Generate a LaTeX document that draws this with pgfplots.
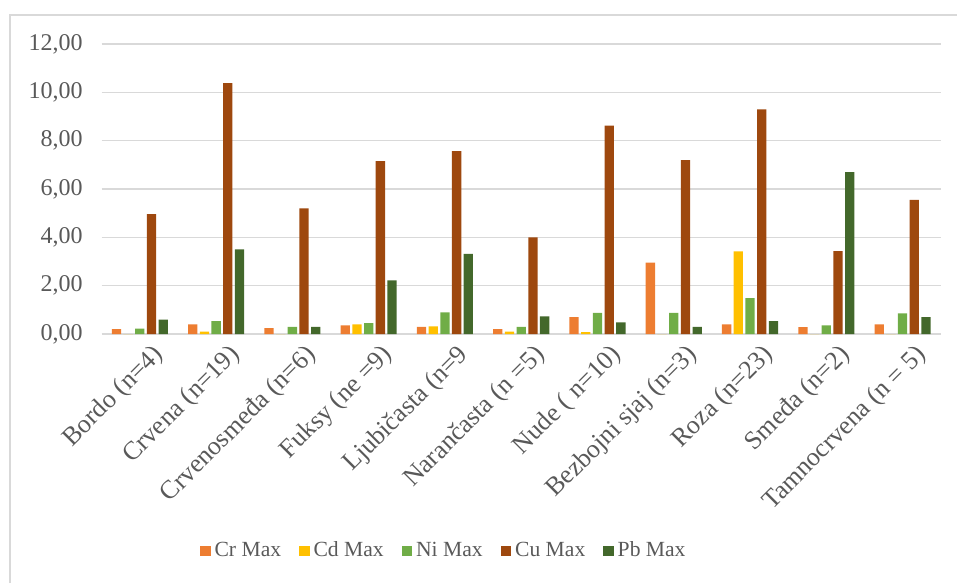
\documentclass[border=0pt]{standalone}
\usepackage{pgfplots}
\pgfplotsset{compat=1.18}
\usepackage{fontspec}
\setmainfont{Liberation Serif}

\definecolor{crc}{HTML}{ED7D31}
\definecolor{cdc}{HTML}{FFC000}
\definecolor{nic}{HTML}{70AD47}
\definecolor{cuc}{HTML}{9E480E}
\definecolor{pbc}{HTML}{43682B}
\definecolor{txt}{HTML}{595959}
\definecolor{gridc}{HTML}{D9D9D9}

% max values per colour group
\pgfplotstableread{
idx Cr   Cd   Ni   Cu    Pb
0   0.20 0    0.22 4.96  0.60
1   0.40 0.10 0.53 10.38 3.50
2   0.24 0    0.30 5.20  0.30
3   0.36 0.40 0.45 7.15  2.22
4   0.30 0.32 0.90 7.57  3.32
5   0.20 0.10 0.30 4.00  0.73
6   0.70 0.08 0.87 8.62  0.48
7   2.95 0    0.87 7.20  0.30
8   0.40 3.42 1.48 9.30  0.53
9   0.28 0    0.36 3.43  6.70
10  0.40 0    0.85 5.55  0.70
}\maxdata

\begin{document}
\begin{tikzpicture}
\path[use as bounding box] (-50.85pt,-124.5pt) rectangle (427.65pt,167pt);
\draw[gridc, line width=0.8pt] (-45.85pt,-124.5pt) -- (-45.85pt,159.5pt) -- (427.65pt,159.5pt);
\begin{axis}[
  at={(0,0)}, anchor=south west,
  scale only axis, width=419.5pt, height=145pt,
  ymin=0, ymax=12, ytick={0,2,...,12},
  xmin=-0.5, xmax=10.5,
  xtick={0,...,10},
  xticklabels={Bordo (n=4), Crvena (n=19), Crvenosmeđa (n=6), Fuksy (ne =9), Ljubičasta (n=9, Narančasta (n =5), Nude ( n=10), Bezbojni sjaj (n=3), Roza (n=23), Smeđa (n=2), Tamnocrvena (n = 5)},
  x tick label style={rotate=45, anchor=north east, inner sep=1pt, yshift=-6pt, xshift=2pt,
    font=\fontsize{13}{15}\selectfont},
  ybar=1.2pt, bar width=4.65pt,
  axis line style={draw=none}, major tick length=0pt,
  ymajorgrids, grid style={gridc, line width=0.8pt},
  tick label style={text=txt},
  yticklabel style={font=\fontsize{12}{14}\selectfont, xshift=-6pt},
  /pgf/number format/fixed, /pgf/number format/fixed zerofill,
  /pgf/number format/precision=2, /pgf/number format/use comma,
  /pgf/number format/assume math mode=true,
  legend columns=5,
  legend style={at={(0.409,-0.748)}, anchor=center, draw=none, fill=none,
    font=\fontsize{10.8}{12.5}\selectfont, text=txt,
    /tikz/every even column/.append style={column sep=7pt}},
  legend image code/.code={\fill[#1] (0pt,-2.6pt) rectangle (5.2pt,2.6pt);},
  every axis plot/.append style={draw=none},
]
\addplot[fill=crc] table[x=idx, y=Cr] {\maxdata};
\addplot[fill=cdc] table[x=idx, y=Cd] {\maxdata};
\addplot[fill=nic] table[x=idx, y=Ni] {\maxdata};
\addplot[fill=cuc] table[x=idx, y=Cu] {\maxdata};
\addplot[fill=pbc] table[x=idx, y=Pb] {\maxdata};
\legend{Cr Max, Cd Max, Ni Max, Cu Max, Pb Max}
\end{axis}
\end{tikzpicture}
\end{document}
